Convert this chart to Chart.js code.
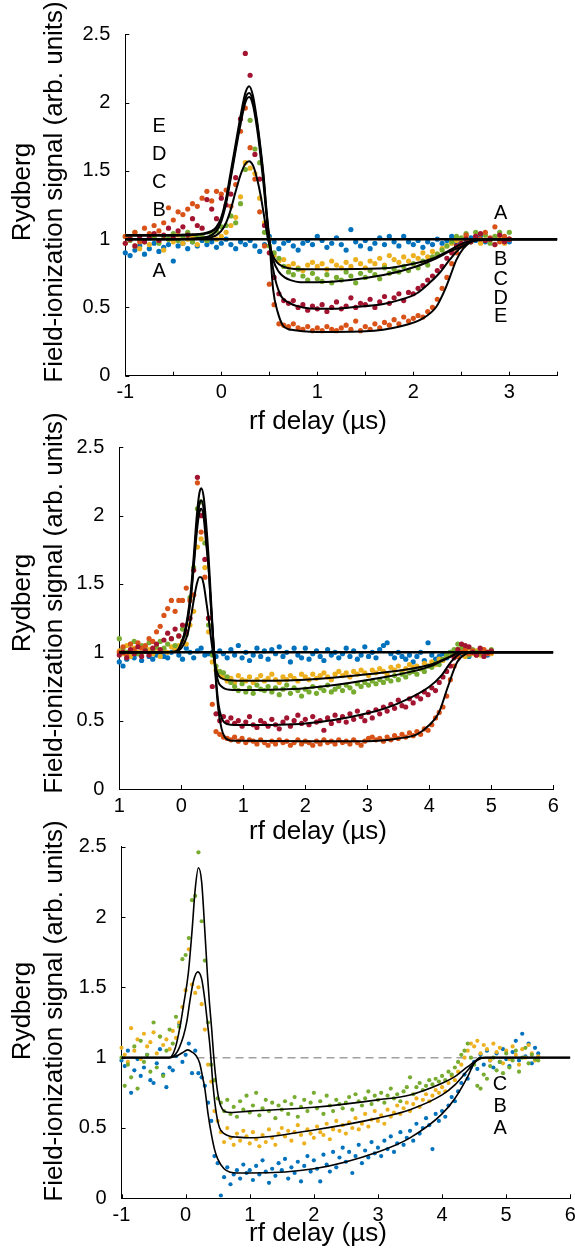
<!DOCTYPE html>
<html><head><meta charset="utf-8">
<script src="https://cdn.jsdelivr.net/npm/chart.js@4.4.1/dist/chart.umd.min.js"></script>
<style>
html,body{margin:0;padding:0;background:#fff;width:575px;height:1255px;overflow:hidden;position:relative}
canvas{position:absolute;left:0}
</style></head><body>
<canvas id="c1" width="600" height="440" style="top:0px;width:600px;height:440px"></canvas>
<canvas id="c2" width="600" height="450" style="top:400px;width:600px;height:450px"></canvas>
<canvas id="c3" width="600" height="450" style="top:805px;width:600px;height:450px"></canvas>
<script>
// ---------------- common text ----------------
const xTitleText = 'rf delay (µs)';
const yTitleLines = ['Rydberg', 'Field-ionization signal (arb. units)'];
const yTickVals = [0, 0.5, 1, 1.5, 2, 2.5];
const yTickText = ['0', '0.5', '1', '1.5', '2', '2.5'];

// ---------------- panel 1 ----------------
const p1XTickVals = [-1, 0, 1, 2, 3];
const p1XTickText = ['-1', '0', '1', '2', '3'];
const p1X = [-1,-0.95,-0.9,-0.85,-0.8,-0.75,-0.7,-0.65,-0.6,-0.55,
 -0.5,-0.45,-0.4,-0.35,-0.3,-0.25,-0.2,-0.15,-0.1,-0.05,
 0,0.05,0.1,0.15,0.2,0.25,0.3,0.35,0.4,0.45,
 0.5,0.55,0.6,0.65,0.7,0.75,0.8,0.85,0.9,0.95,
 1,1.05,1.1,1.15,1.2,1.25,1.3,1.35,1.4,1.45,
 1.5,1.55,1.6,1.65,1.7,1.75,1.8,1.85,1.9,1.95,
 2,2.05,2.1,2.15,2.2,2.25,2.3,2.35,2.4,2.45,
 2.5,2.55,2.6,2.65,2.7,2.75,2.8,2.85,2.9,2.95,
 3];
const p1A = [0.90,0.88,0.92,0.95,0.89,0.93,0.97,0.91,0.94,0.96,
 0.84,0.95,0.97,0.93,0.98,0.95,0.99,0.96,0.98,0.94,
 0.97,1.0,0.96,0.93,0.98,0.96,0.99,0.95,0.91,0.96,
 1.02,0.98,0.93,0.97,0.99,0.95,0.92,0.97,0.99,0.96,
 1.02,0.99,0.94,0.97,1.01,0.96,0.92,1.07,0.98,0.95,
 0.99,0.93,0.97,1.01,0.96,1.02,0.98,0.95,1.02,0.98,
 0.96,0.99,0.94,0.98,0.96,1.0,0.97,0.99,1.02,0.97,
 1.0,0.99,1.01,0.99,1.02,0.98,1.0,1.01,0.99,1.0,
 0.98];
const p1B = [0.97,1.01,0.95,0.93,0.99,0.96,1.02,0.98,0.92,1.0,
 0.98,1.03,0.97,1.0,1.02,0.96,1.01,0.99,1.03,1.0,
 1.02,1.05,1.1,1.16,1.31,1.56,1.52,1.48,1.3,1.12,
 1.0,0.88,0.84,0.85,0.8,0.82,0.79,0.77,0.81,0.83,
 0.8,0.82,0.78,0.84,0.81,0.79,0.83,0.8,0.85,0.82,
 0.79,0.84,0.82,0.86,0.81,0.88,0.85,0.83,0.87,0.84,
 0.88,0.86,0.9,0.87,0.91,0.89,0.93,0.95,0.97,0.99,
 1.0,1.02,0.98,1.01,0.97,1.03,0.99,0.96,1.01,0.97,
 1.0];
const p1C = [1.02,0.99,1.05,1.0,0.98,1.03,1.01,0.97,1.02,1.0,
 1.04,0.99,1.01,1.05,0.98,1.02,1.03,0.99,1.04,1.06,
 1.09,1.1,1.17,1.12,1.26,1.51,1.87,1.66,1.56,1.05,
 0.95,0.9,0.86,0.8,0.76,0.74,0.78,0.73,0.7,0.75,
 0.71,0.69,0.74,0.68,0.72,0.7,0.76,0.73,0.68,0.75,
 0.72,0.77,0.74,0.71,0.79,0.75,0.78,0.76,0.8,0.77,
 0.82,0.79,0.84,0.81,0.87,0.89,0.92,0.95,0.98,1.02,
 1.01,1.04,0.98,1.05,1.0,1.03,0.97,1.02,1.05,0.99,
 1.05];
const p1D = [0.97,1.0,0.95,1.02,0.98,1.01,1.04,0.99,1.03,1.08,
 1.02,1.06,1.09,1.03,1.15,1.1,1.08,1.29,1.22,1.15,
 1.3,1.25,1.33,1.45,1.88,2.36,2.2,1.62,1.44,1.1,
 0.9,0.72,0.6,0.55,0.53,0.55,0.5,0.52,0.48,0.51,
 0.49,0.52,0.47,0.5,0.54,0.49,0.51,0.57,0.5,0.53,
 0.52,0.56,0.5,0.54,0.58,0.53,0.57,0.6,0.55,0.61,
 0.6,0.64,0.66,0.7,0.73,0.77,0.8,0.86,0.9,0.95,
 0.97,1.0,0.98,1.02,1.04,0.99,1.0,0.96,1.03,0.98,
 1.0];
const p1E = [1.02,1.0,1.05,0.98,1.08,1.04,1.1,1.06,1.12,1.23,
 1.14,1.2,1.18,1.22,1.26,1.24,1.3,1.35,1.28,1.35,
 1.33,1.36,1.24,1.4,1.79,1.96,1.67,1.44,1.2,0.95,
 0.67,0.52,0.38,0.37,0.36,0.38,0.35,0.34,0.36,0.33,
 0.35,0.33,0.36,0.34,0.33,0.35,0.37,0.34,0.4,0.33,
 0.36,0.34,0.38,0.35,0.39,0.37,0.41,0.38,0.43,0.4,
 0.42,0.44,0.43,0.47,0.5,0.56,0.64,0.72,0.82,0.9,
 0.95,1.03,0.99,1.02,1.0,1.05,1.01,1.09,0.98,1.02,
 1.0];
// fitted curves, panel 1
const p1FitAX = [-1, 3.5];
const p1FitAY = [1, 1];
const p1FitBX = [-1,-0.5,-0.2,-0.1,-0.05,0,0.05,0.1,0.15,0.2,0.25,0.29,0.33,0.37,0.41,0.45,0.49,0.53,0.58,0.64,0.72,0.82,1.2,1.69,2.0,2.21,2.38,2.52,2.66,2.8,3.5];
const p1FitBY = [1.0,1.0,1.005,1.015,1.03,1.06,1.12,1.22,1.35,1.47,1.55,1.57,1.54,1.45,1.32,1.15,0.99,0.89,0.83,0.8,0.785,0.78,0.78,0.786,0.82,0.86,0.92,0.97,0.99,1.0,1.0];
const p1FitCX = [-1,-0.5,-0.2,-0.1,-0.05,0,0.05,0.1,0.15,0.2,0.25,0.29,0.33,0.37,0.4,0.44,0.47,0.5,0.54,0.6,0.66,0.72,0.82,1.0,1.69,2.03,2.24,2.38,2.52,2.63,2.75,3.5];
const p1FitCY = [1.0,1.0,1.01,1.03,1.06,1.13,1.26,1.45,1.65,1.84,2.0,2.04,1.98,1.82,1.66,1.4,1.18,1.0,0.85,0.76,0.72,0.7,0.685,0.685,0.737,0.8,0.86,0.91,0.95,0.99,1.0,1.0];
const p1FitDX = [-1,-0.5,-0.2,-0.1,-0.05,0,0.05,0.1,0.15,0.2,0.25,0.29,0.33,0.37,0.4,0.44,0.47,0.5,0.54,0.61,0.72,0.85,1.0,1.2,1.34,1.69,1.86,2.03,2.17,2.27,2.38,2.48,2.59,2.69,3.5];
const p1FitDY = [1.025,1.025,1.035,1.055,1.085,1.15,1.28,1.47,1.67,1.87,2.03,2.07,2.01,1.86,1.7,1.45,1.2,1.0,0.78,0.6,0.53,0.5,0.49,0.49,0.5,0.525,0.555,0.6,0.68,0.75,0.85,0.93,0.98,1.0,1.0];
const p1FitEX = [-1,-0.5,-0.3,-0.2,-0.1,-0.05,0,0.05,0.1,0.15,0.2,0.25,0.29,0.33,0.37,0.4,0.44,0.47,0.5,0.54,0.59,0.64,0.7,0.75,0.85,1.0,1.5,1.86,2.1,2.24,2.33,2.38,2.45,2.52,2.6,2.73,3.5];
const p1FitEY = [1.03,1.03,1.035,1.04,1.06,1.09,1.16,1.3,1.5,1.7,1.9,2.07,2.12,2.05,1.88,1.72,1.47,1.22,1.0,0.63,0.46,0.37,0.34,0.335,0.325,0.32,0.325,0.36,0.42,0.505,0.63,0.72,0.85,0.93,0.98,1.0,1.0];
const p1Labels = [
 {t:'E',x:-0.646,y:1.823},{t:'D',x:-0.646,y:1.621},{t:'C',x:-0.646,y:1.413},{t:'B',x:-0.646,y:1.213},{t:'A',x:-0.646,y:0.761},
 {t:'A',x:2.91,y:1.189},{t:'B',x:2.91,y:0.854},{t:'C',x:2.91,y:0.708},{t:'D',x:2.91,y:0.567},{t:'E',x:2.91,y:0.43}];

// ---------------- panel 2 ----------------
const p2XTickVals = [-1, 0, 1, 2, 3, 4, 5, 6];
const p2XTickText = ['1', '0', '1', '2', '3', '4', '5', '6'];
const p2X = [-1,-0.94,-0.88,-0.82,-0.76,-0.7,-0.64,-0.58,-0.52,-0.46,
 -0.4,-0.34,-0.28,-0.22,-0.16,-0.1,-0.04,0.02,0.08,0.14,
 0.2,0.26,0.32,0.38,0.44,0.5,0.56,0.62,0.68,0.74,
 0.8,0.86,0.92,0.98,1.04,1.1,1.16,1.22,1.28,1.34,
 1.4,1.46,1.52,1.58,1.64,1.7,1.76,1.82,1.88,1.94,
 2,2.06,2.12,2.18,2.24,2.3,2.36,2.42,2.48,2.54,
 2.6,2.66,2.72,2.78,2.84,2.9,2.96,3.02,3.08,3.14,
 3.2,3.26,3.32,3.38,3.44,3.5,3.56,3.62,3.68,3.74,
 3.8,3.86,3.92,3.98,4.04,4.1,4.16,4.22,4.28,4.34,
 4.4,4.46,4.52,4.58,4.64,4.7,4.76,4.82,4.88,4.94,
 5];
const p2A = [0.93,0.9,0.95,0.98,0.96,0.99,0.94,1.01,0.97,0.95,
 0.98,1.0,0.97,0.96,1.0,1.02,0.98,0.95,1.03,1.0,
 0.96,1.01,1.03,0.98,0.99,1.0,0.97,1.01,0.99,0.96,
 1.02,0.98,1.05,0.96,1.0,0.94,0.98,1.03,0.97,1.01,
 0.95,1.02,0.99,1.04,0.97,1.0,0.93,1.03,0.98,0.96,
 1.03,0.95,0.99,1.01,0.97,0.94,1.02,0.98,1.0,0.96,
 0.99,1.03,0.97,1.01,0.95,0.98,1.04,0.97,1.0,0.96,
 1.02,1.05,1.07,0.99,0.96,1.0,0.97,0.95,0.98,0.93,
 0.97,1.0,0.94,1.07,0.98,0.95,0.97,0.99,0.96,1.0,
 0.98,1.02,0.99,1.0,0.97,1.01,0.99,1.02,1.0,0.98,
 1.01];
const p2B = [1.01,0.99,1.05,0.97,1.03,1.0,0.98,1.04,1.02,0.99,
 1.03,0.97,1.02,1.0,1.04,1.02,1.05,1.08,1.06,1.2,
 1.3,1.77,1.83,1.62,1.15,0.93,0.87,0.84,0.82,0.79,
 0.81,0.78,0.83,0.8,0.79,0.82,0.78,0.8,0.83,0.79,
 0.81,0.84,0.8,0.78,0.82,0.8,0.83,0.81,0.79,0.84,
 0.82,0.8,0.84,0.81,0.83,0.85,0.82,0.8,0.84,0.86,
 0.83,0.85,0.82,0.86,0.84,0.87,0.85,0.83,0.87,0.85,
 0.88,0.86,0.84,0.89,0.87,0.9,0.86,0.88,0.91,0.89,
 0.9,0.88,0.92,0.9,0.93,0.91,0.95,0.94,0.97,0.99,
 0.98,1.02,1.0,0.97,1.03,0.99,1.01,0.98,1.02,1.0,
 0.99];
const p2C = [1.1,1.03,1.0,1.06,1.08,0.99,1.05,1.02,1.07,1.01,
 1.04,1.08,1.03,1.06,1.1,1.05,1.12,1.17,1.13,1.4,
 1.62,2.05,2.1,1.8,1.2,0.98,0.9,0.86,0.85,0.82,
 0.78,0.75,0.72,0.77,0.71,0.74,0.7,0.76,0.73,0.72,
 0.75,0.71,0.74,0.69,0.73,0.76,0.7,0.74,0.72,0.68,
 0.73,0.71,0.75,0.7,0.74,0.72,0.76,0.71,0.73,0.75,
 0.72,0.76,0.74,0.71,0.77,0.75,0.78,0.76,0.79,0.77,
 0.8,0.78,0.81,0.79,0.83,0.8,0.84,0.82,0.85,0.86,
 0.84,0.88,0.86,0.9,0.89,0.92,0.91,0.95,0.98,1.0,
 1.02,1.06,1.03,1.0,0.98,1.02,1.0,0.99,1.01,1.0,
 1.02];
const p2D = [0.98,1.0,0.96,1.02,0.99,1.04,0.97,1.01,0.98,1.03,
 1.06,1.02,1.09,1.14,1.1,1.17,1.12,1.2,1.15,1.25,
 1.6,2.28,2.0,1.68,1.25,0.75,0.55,0.5,0.53,0.49,
 0.52,0.48,0.5,0.46,0.49,0.53,0.47,0.45,0.5,0.48,
 0.46,0.51,0.47,0.44,0.49,0.52,0.46,0.5,0.54,0.48,
 0.51,0.47,0.53,0.49,0.5,0.43,0.52,0.48,0.54,0.5,
 0.53,0.49,0.55,0.51,0.57,0.53,0.5,0.56,0.52,0.58,
 0.55,0.6,0.57,0.62,0.59,0.65,0.61,0.6,0.66,0.63,
 0.68,0.66,0.71,0.69,0.74,0.72,0.78,0.82,0.86,0.9,
 0.96,1.02,1.06,1.05,1.04,1.0,0.98,1.03,0.97,1.0,
 1.01];
const p2E = [1.0,1.04,0.98,1.06,1.02,1.07,1.03,1.05,1.1,1.08,
 1.15,1.19,1.27,1.32,1.38,1.3,1.38,1.38,1.47,1.38,
 1.42,2.24,1.88,1.55,1.25,0.62,0.42,0.4,0.38,0.37,
 0.36,0.38,0.35,0.37,0.34,0.36,0.35,0.33,0.36,0.34,
 0.32,0.35,0.33,0.36,0.34,0.35,0.32,0.34,0.36,0.33,
 0.35,0.34,0.32,0.35,0.33,0.36,0.34,0.35,0.33,0.36,
 0.34,0.35,0.33,0.36,0.34,0.32,0.35,0.37,0.38,0.36,
 0.37,0.35,0.38,0.36,0.39,0.37,0.4,0.38,0.41,0.39,
 0.42,0.4,0.44,0.43,0.47,0.52,0.56,0.6,0.68,0.8,
 0.9,0.97,1.0,1.02,0.99,1.01,0.98,1.0,1.02,0.99,
 1.0];
const p2FitAX = [-1, 6];
const p2FitAY = [1, 1];
const p2FitBX = [-1,-0.1,-0.05,0,0.05,0.1,0.15,0.2,0.25,0.29,0.32,0.36,0.4,0.44,0.48,0.52,0.56,0.6,0.65,0.7,0.78,0.9,1.0,2.0,3.0,4.0,4.4,4.5,6];
const p2FitBY = [1.0,1.002,1.01,1.03,1.07,1.13,1.24,1.38,1.5,1.55,1.55,1.5,1.38,1.25,1.1,0.97,0.88,0.83,0.81,0.8,0.795,0.792,0.792,0.8,0.84,0.907,0.98,1.0,1.0];
const p2FitCX = [-1,-0.1,-0.05,0,0.05,0.1,0.15,0.2,0.25,0.29,0.32,0.36,0.4,0.44,0.48,0.52,0.56,0.6,0.65,0.7,0.78,0.9,1.0,2.0,3.0,4.0,4.3,4.5,4.6,6];
const p2FitCY = [1.0,1.005,1.02,1.06,1.12,1.23,1.38,1.62,1.88,2.02,2.05,1.99,1.8,1.62,1.33,1.06,0.86,0.78,0.75,0.735,0.726,0.724,0.724,0.737,0.797,0.895,0.96,1.0,1.0,1.0];
const p2FitDX = [-1,-0.1,-0.05,0,0.05,0.1,0.15,0.2,0.25,0.29,0.32,0.36,0.4,0.44,0.48,0.52,0.56,0.6,0.65,0.7,0.8,1.0,2.0,3.0,3.5,4.0,4.2,4.35,4.5,4.6,6];
const p2FitDY = [1.0,1.005,1.02,1.065,1.13,1.24,1.4,1.65,1.93,2.08,2.11,2.05,1.85,1.62,1.32,1.04,0.8,0.62,0.52,0.485,0.47,0.468,0.48,0.554,0.627,0.748,0.833,0.93,0.99,1.0,1.0];
const p2FitEX = [-1,-0.1,-0.05,0,0.05,0.1,0.15,0.2,0.25,0.29,0.32,0.36,0.4,0.44,0.48,0.52,0.56,0.6,0.65,0.7,0.76,0.85,1.0,2.0,3.0,3.5,3.8,4.0,4.15,4.3,4.45,4.6,4.7,6];
const p2FitEY = [1.0,1.005,1.02,1.07,1.14,1.26,1.43,1.7,2.0,2.16,2.2,2.14,1.95,1.7,1.38,1.06,0.78,0.57,0.44,0.38,0.36,0.353,0.353,0.35,0.35,0.37,0.4,0.468,0.554,0.748,0.93,0.99,1.0,1.0];

// ---------------- panel 3 ----------------
const p3XTickVals = [-1, 0, 1, 2, 3, 4, 5, 6];
const p3XTickText = ['-1', '0', '1', '2', '3', '4', '5', '6'];
const p3X = [-1,-0.95,-0.9,-0.85,-0.8,-0.75,-0.7,-0.65,-0.6,-0.55,
 -0.5,-0.45,-0.4,-0.35,-0.3,-0.25,-0.2,-0.15,-0.1,-0.05,
 0,0.05,0.1,0.15,0.2,0.25,0.3,0.35,0.4,0.45,
 0.5,0.55,0.6,0.65,0.7,0.75,0.8,0.85,0.9,0.95,
 1,1.05,1.1,1.15,1.2,1.25,1.3,1.35,1.4,1.45,
 1.5,1.55,1.6,1.65,1.7,1.75,1.8,1.85,1.9,1.95,
 2,2.05,2.1,2.15,2.2,2.25,2.3,2.35,2.4,2.45,
 2.5,2.55,2.6,2.65,2.7,2.75,2.8,2.85,2.9,2.95,
 3,3.05,3.1,3.15,3.2,3.25,3.3,3.35,3.4,3.45,
 3.5,3.55,3.6,3.65,3.7,3.75,3.8,3.85,3.9,3.95,
 4,4.05,4.1,4.15,4.2,4.25,4.3,4.35,4.4,4.45,
 4.5,4.55,4.6,4.65,4.7,4.75,4.8,4.85,4.9,4.95,
 5,5.05,5.1,5.15,5.2,5.25,5.3,5.35,5.4,5.45,
 5.5];
const p3A = [0.98,0.94,1.05,0.75,0.91,0.99,0.87,0.93,1.02,0.84,
 0.82,0.96,1.06,0.88,0.79,0.93,0.91,1.01,1.24,0.97,
 1.02,1.1,0.89,1.05,0.89,0.86,0.8,0.68,0.55,0.3,
 0.25,0.02,0.15,0.22,0.1,0.17,0.2,0.14,0.24,0.18,
 0.2,0.13,0.23,0.17,0.27,0.19,0.11,0.21,0.16,0.25,
 0.2,0.28,0.14,0.22,0.18,0.26,0.12,0.23,0.3,0.19,
 0.27,0.21,0.12,0.31,0.24,0.19,0.33,0.22,0.29,0.36,
 0.26,0.33,0.18,0.3,0.38,0.25,0.34,0.29,0.4,0.32,
 0.36,0.3,0.41,0.35,0.44,0.33,0.39,0.47,0.38,0.43,
 0.48,0.41,0.53,0.46,0.5,0.57,0.52,0.35,0.6,0.55,
 0.62,0.58,0.66,0.72,0.69,0.76,0.82,0.88,0.85,0.93,
 0.97,0.92,1.02,0.95,1.05,0.98,0.93,1.03,0.97,1.06,
 0.99,0.94,1.04,1.12,0.98,1.17,1.01,1.1,0.96,1.07,
 1.03];
const p3B = [1.07,1.02,0.97,1.21,1.05,1.13,0.99,1.17,1.08,1.11,
 1.18,1.03,1.15,1.09,1.13,1.06,1.19,1.14,1.25,1.36,
 1.48,1.77,1.52,1.46,1.5,1.38,1.2,0.95,0.83,0.62,
 0.55,0.47,0.4,0.5,0.43,0.38,0.46,0.41,0.48,0.44,
 0.39,0.47,0.42,0.37,0.45,0.4,0.49,0.43,0.38,0.46,
 0.5,0.44,0.48,0.41,0.47,0.52,0.45,0.39,0.49,0.46,
 0.43,0.51,0.47,0.45,0.53,0.42,0.49,0.55,0.48,0.52,
 0.46,0.54,0.5,0.57,0.49,0.53,0.6,0.51,0.56,0.62,
 0.55,0.59,0.53,0.63,0.58,0.61,0.66,0.6,0.64,0.68,
 0.62,0.67,0.71,0.65,0.7,0.74,0.69,0.73,0.77,0.75,
 0.79,0.76,0.82,0.87,0.84,0.9,0.95,1.0,1.05,1.1,
 1.08,1.12,1.03,1.09,1.06,0.98,1.1,1.04,1.07,0.96,
 1.05,0.99,1.08,1.02,0.95,1.06,1.0,1.09,1.03,0.98,
 1.01];
const p3C = [1.0,0.8,0.95,0.86,1.08,0.78,1.12,0.97,1.02,0.9,
 1.25,0.93,1.15,0.87,1.05,1.2,1.1,1.29,1.22,1.7,
 1.73,1.85,2.12,2.15,2.46,1.97,1.69,1.25,0.95,0.84,
 0.71,0.68,0.62,0.7,0.6,0.65,0.58,0.69,0.63,0.73,
 0.61,0.66,0.75,0.59,0.64,0.7,0.62,0.68,0.57,0.66,
 0.63,0.69,0.6,0.67,0.72,0.58,0.65,0.7,0.62,0.68,
 0.75,0.64,0.69,0.6,0.73,0.66,0.62,0.7,0.67,0.64,
 0.68,0.72,0.63,0.74,0.69,0.66,0.71,0.76,0.67,0.73,
 0.7,0.75,0.68,0.73,0.78,0.71,0.74,0.69,0.76,0.79,
 0.86,0.74,0.79,0.82,0.77,0.8,0.84,0.81,0.85,0.83,
 0.87,0.84,0.9,0.88,0.93,0.97,1.02,1.05,1.1,1.0,
 0.95,0.8,0.78,0.88,0.85,0.94,1.0,0.91,0.97,0.89,
 1.03,0.93,0.98,1.05,0.9,1.0,1.07,0.96,1.02,0.99,
 0.98];
const p3FitAX = [-1,-0.25,-0.15,-0.05,0.03,0.1,0.17,0.22,0.27,0.3,0.35,0.4,0.45,0.5,0.6,0.7,0.8,1.0,2.0,3.0,3.5,4.0,4.2,4.4,4.5,4.6,6];
const p3FitAY = [1.0,1.0,1.01,1.035,1.055,1.04,1.01,0.96,0.85,0.78,0.6,0.46,0.35,0.28,0.21,0.185,0.18,0.18,0.21,0.33,0.43,0.6,0.71,0.865,0.96,1.0,1.0];
const p3FitBX = [-1,-0.25,-0.15,-0.1,-0.036,0.02,0.069,0.12,0.19,0.25,0.3,0.34,0.38,0.43,0.48,0.53,0.6,0.7,0.8,1.0,2.0,3.0,3.5,4.0,4.2,4.4,4.55,4.65,6];
const p3FitBY = [1.0,1.0,1.03,1.07,1.15,1.26,1.41,1.54,1.61,1.56,1.41,1.25,1.08,0.79,0.6,0.5,0.46,0.44,0.435,0.43,0.486,0.57,0.63,0.735,0.806,0.91,0.98,1.0,1.0];
const p3FitCX = [-1,-0.25,-0.16,-0.087,-0.03,0.042,0.1,0.15,0.2,0.25,0.3,0.339,0.37,0.407,0.44,0.48,0.52,0.57,0.62,0.7,1.0,2.0,3.0,3.5,4.0,4.2,4.4,4.6,4.7,6];
const p3FitCY = [1.0,1.0,1.07,1.22,1.38,1.6,1.9,2.2,2.35,2.25,1.9,1.6,1.4,1.2,1.0,0.82,0.7,0.635,0.615,0.61,0.62,0.647,0.7,0.735,0.818,0.865,0.936,0.995,1.0,1.0];
const p3RefX = [0.17, 4.55];
const p3RefY = [1, 1];
const p3Labels = [{t:'C',x:4.905,y:0.806},{t:'B',x:4.905,y:0.652},{t:'A',x:4.905,y:0.498}];

// ---------------- drawing ----------------
const FONT = '"Liberation Sans", Arial, Helvetica, sans-serif';
const COL = {A:'#0072BD', B:'#EDB120', C:'#77AC30', D:'#A2142F', E:'#D95319'};
const pts = (xs, ys) => xs.map((x, i) => ({x: x, y: ys[i]}));
const lookup = (vals, texts) => (v) => {
  const i = vals.findIndex(t => Math.abs(t - v) < 1e-6);
  return i < 0 ? '' : texts[i];
};

const decor = {
  id: 'decor',
  afterDraw(chart, args, o) {
    const ctx = chart.ctx, a = chart.chartArea, xs = chart.scales.x, ys = chart.scales.y;
    ctx.save();
    ctx.strokeStyle = '#000';
    ctx.lineWidth = 1;
    xs.ticks.forEach(t => {
      const p = Math.round(xs.getPixelForValue(t.value)) + 0.5;
      ctx.beginPath(); ctx.moveTo(p, a.bottom); ctx.lineTo(p, a.bottom - o.tick); ctx.stroke();
    });
    ys.ticks.forEach(t => {
      const p = Math.round(ys.getPixelForValue(t.value)) + 0.5;
      ctx.beginPath(); ctx.moveTo(a.left, p); ctx.lineTo(a.left + o.tick, p); ctx.stroke();
    });
    ctx.fillStyle = '#000';
    ctx.font = '20px ' + FONT;
    ctx.textAlign = 'center';
    ctx.textBaseline = 'middle';
    (o.labels || []).forEach(L => ctx.fillText(L.t, xs.getPixelForValue(L.x), ys.getPixelForValue(L.y)));
    ctx.font = '26px ' + FONT;
    ctx.textBaseline = 'alphabetic';
    ctx.fillText(xTitleText, o.xTitleX, o.xTitleY);
    yTitleLines.forEach((line, i) => {
      ctx.save();
      ctx.translate(o.yTitleBase[i], o.yTitleCY);
      ctx.rotate(-Math.PI / 2);
      ctx.fillText(line, 0, 0);
      ctx.restore();
    });
    ctx.restore();
  }
};

function makePanel(id, P) {
  const W = 600;
  const datasets = [];
  P.curves.forEach(c => datasets.push({
    data: pts(c[0], c[1]), showLine: true, borderColor: '#000', borderWidth: c[2],
    pointRadius: 0, cubicInterpolationMode: 'monotone', fill: false, order: 0
  }));
  if (P.ref) datasets.push({
    data: pts(P.ref[0], P.ref[1]), showLine: true, borderColor: '#a0a0a0', borderWidth: 1.5,
    borderDash: [8, 5], pointRadius: 0, fill: false, order: 9
  });
  P.series.forEach(s => datasets.push({
    data: pts(P.xs, s[0]), showLine: false, backgroundColor: s[1], borderWidth: 0,
    pointRadius: P.r, pointHoverRadius: P.r, order: s[2], clip: false
  }));
  new Chart(document.getElementById(id), {
    type: 'scatter',
    data: {datasets},
    options: {
      responsive: false, animation: false, devicePixelRatio: 1, events: [],
      layout: {padding: {left: 0, right: W - P.right, top: P.top, bottom: 0}},
      plugins: {
        legend: {display: false}, tooltip: {enabled: false},
        decor: {tick: 4, labels: P.labels, xTitleX: 318, xTitleY: P.xTitleY, yTitleBase: [29.5, 61.5], yTitleCY: P.yTitleCY}
      },
      scales: {
        x: {
          type: 'linear', min: P.xMin, max: P.xMax,
          grid: {display: false, drawTicks: false},
          border: {display: true, color: '#000', width: 1},
          ticks: {stepSize: P.xStep, autoSkip: false, maxRotation: 0, minRotation: 0, color: '#000',
                  font: {family: FONT, size: 20}, padding: 5, callback: lookup(P.xTickVals, P.xTickText)},
          afterFit: (s) => { s.height = P.height - P.bottom; }
        },
        y: {
          type: 'linear', min: 0, max: 2.5,
          grid: {display: false, drawTicks: false},
          border: {display: true, color: '#000', width: 1},
          ticks: {stepSize: 0.5, autoSkip: false, color: '#000',
                  font: {family: FONT, size: 20}, padding: 15, callback: lookup(yTickVals, yTickText)},
          afterFit: (s) => { s.width = P.left; }
        }
      }
    },
    plugins: [decor]
  });
}

makePanel('c1', {
  height: 440, left: 125.3, right: 557.3, top: 34.3, bottom: 375.7,
  xMin: -1, xMax: 3.5, xStep: 0.5, xTickVals: p1XTickVals, xTickText: p1XTickText,
  xs: p1X, r: 2.6,
  series: [[p1A, COL.A, 5], [p1B, COL.B, 4], [p1C, COL.C, 3], [p1E, COL.E, 2], [p1D, COL.D, 1]],
  curves: [[p1FitAX, p1FitAY, 2.5], [p1FitBX, p1FitBY, 2], [p1FitCX, p1FitCY, 2], [p1FitDX, p1FitDY, 2], [p1FitEX, p1FitEY, 2]],
  labels: p1Labels, xTitleY: 429, yTitleCY: 192
});
makePanel('c2', {
  height: 450, left: 119.3, right: 553.3, top: 47.3, bottom: 389,
  xMin: -1, xMax: 6, xStep: 1, xTickVals: p2XTickVals, xTickText: p2XTickText,
  xs: p2X, r: 2.6,
  series: [[p2A, COL.A, 5], [p2B, COL.B, 4], [p2C, COL.C, 3], [p2E, COL.E, 2], [p2D, COL.D, 1]],
  curves: [[p2FitAX, p2FitAY, 2.5], [p2FitBX, p2FitBY, 2], [p2FitCX, p2FitCY, 2], [p2FitDX, p2FitDY, 2], [p2FitEX, p2FitEY, 2]],
  labels: [], xTitleY: 439, yTitleCY: 203
});
makePanel('c3', {
  height: 450, left: 121.5, right: 570.3, top: 41.7, bottom: 393.3,
  xMin: -1, xMax: 6, xStep: 1, xTickVals: p3XTickVals, xTickText: p3XTickText,
  xs: p3X, r: 2.1,
  series: [[p3A, COL.A, 3], [p3B, COL.B, 2], [p3C, COL.C, 1]],
  curves: [[p3FitAX, p3FitAY, 1.6], [p3FitBX, p3FitBY, 1.6], [p3FitCX, p3FitCY, 1.6]],
  ref: [p3RefX, p3RefY],
  labels: p3Labels, xTitleY: 436, yTitleCY: 206
});
</script>
</body></html>
